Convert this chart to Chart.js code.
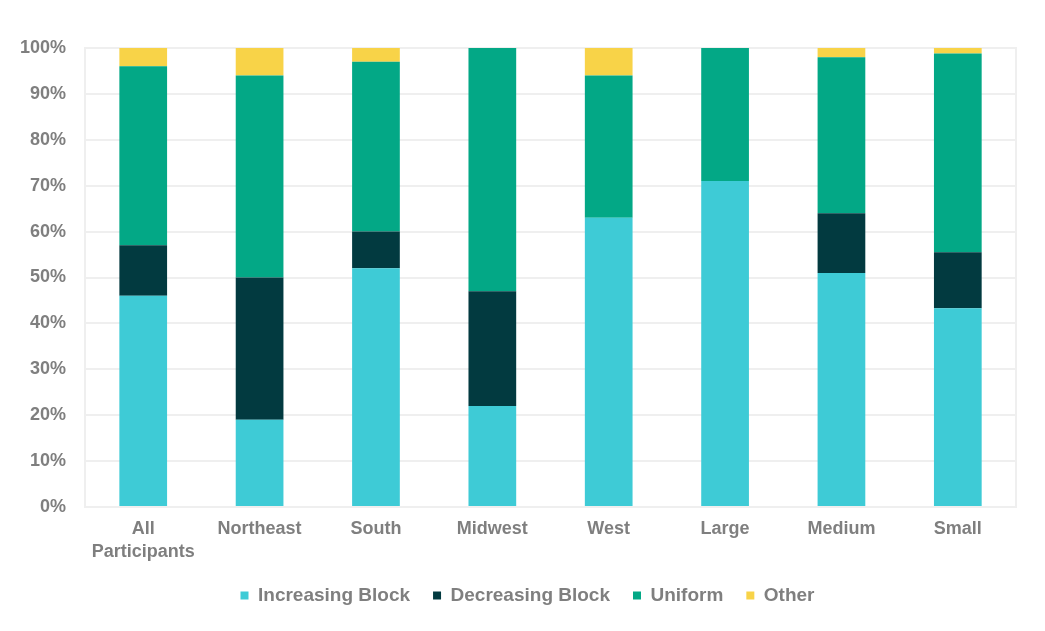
<!DOCTYPE html>
<html>
<head>
<meta charset="utf-8">
<script src="https://cdn.jsdelivr.net/npm/chart.js@4"></script>
<style>
html,body{margin:0;padding:0;background:#fff;}
#wrap{width:1045px;height:631px;}
</style>
</head>
<body>
<div id="wrap"><canvas id="c"></canvas></div>
<script>
const categories = [["All","Participants"],"Northeast","South","Midwest","West","Large","Medium","Small"];
const increasingBlock = [46, 19, 52, 22, 63, 71, 51, 43.3];
const decreasingBlock = [11, 31, 8, 25, 0, 0, 13, 12.2];
const uniform = [39, 44, 37, 53, 31, 29, 34, 43.3];
const other = [4, 6, 3, 0, 6, 0, 2, 1.2];
const yTicks = [0,10,20,30,40,50,60,70,80,90,100];

const gridColor = '#efefef';
const textColor = '#7f7f7f';
const fam = '"Liberation Sans", Arial, sans-serif';
const font = {family: fam, size: 18, weight: 'bold'};
const xFont = {family: fam, size: 18, weight: 'bold', lineHeight: 1.25};
const legendFont = {family: fam, size: 19, weight: 'bold'};

const borderPlugin = {
  id: 'plotBorder',
  afterLayout(chart) {
    if (chart.legend) { chart.legend.left += 19; chart.legend.right += 19; }
  },
  beforeDatasetsDraw(chart) {
    const a = chart.chartArea, ctx = chart.ctx;
    ctx.save();
    ctx.strokeStyle = gridColor;
    ctx.lineWidth = 2;
    ctx.strokeRect(a.left, a.top, a.right - a.left, a.bottom - a.top);
    ctx.restore();
  }
};

new Chart(document.getElementById('c'), {
  type: 'bar',
  data: {
    labels: categories,
    datasets: [
      {label: 'Increasing Block', data: increasingBlock, backgroundColor: '#3ECBD6'},
      {label: 'Decreasing Block', data: decreasingBlock, backgroundColor: '#023A40'},
      {label: 'Uniform', data: uniform, backgroundColor: '#03A886'},
      {label: 'Other', data: other, backgroundColor: '#F8D348'}
    ]
  },
  options: {
    responsive: true,
    maintainAspectRatio: false,
    animation: false,
    layout: {padding: {top: 48, right: 29, left: 1, bottom: 16}},
    datasets: {bar: {categoryPercentage: 1.0, barPercentage: 0.41}},
    scales: {
      x: {
        stacked: true,
        afterFit(axis) { axis.height -= 3; },
        grid: {display: false},
        border: {display: true, color: gridColor, width: 2},
        ticks: {color: textColor, font: xFont, padding: 3, maxRotation: 0}
      },
      y: {
        stacked: true,
        min: 0, max: 100,
        afterBuildTicks(axis) { axis.ticks = yTicks.map(v => ({value: v})); },
        grid: {color: gridColor, lineWidth: 2, drawTicks: false},
        border: {display: true, color: gridColor, width: 2},
        ticks: {color: textColor, font: font, padding: 19, callback: v => v + '%'}
      }
    },
    plugins: {
      legend: {
        position: 'bottom',
        labels: {color: textColor, font: legendFont, boxWidth: 8, boxHeight: 8, padding: 23}
      },
      tooltip: {enabled: false}
    }
  },
  plugins: [borderPlugin]
});
</script>
</body>
</html>
